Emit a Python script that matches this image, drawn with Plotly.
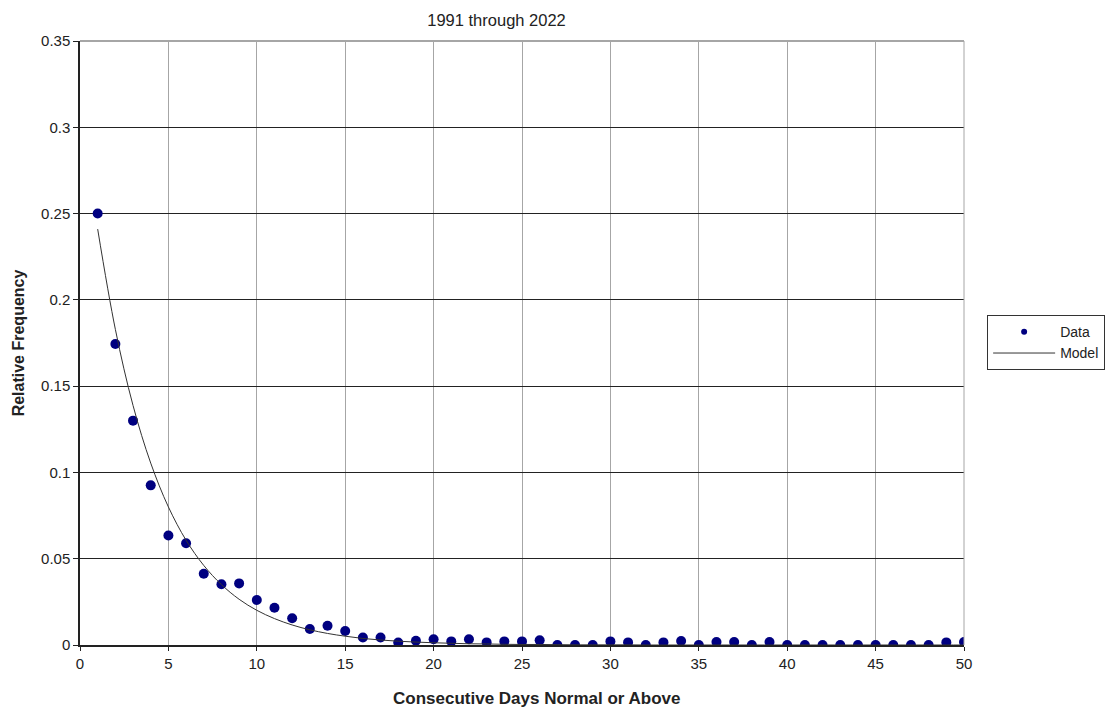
import plotly.graph_objects as go

days = list(range(1, 51))
data_freq = [0.250, 0.1744, 0.130, 0.0925, 0.0635, 0.059, 0.0413, 0.0352, 0.0357, 0.0261,
             0.0216, 0.0155, 0.0093, 0.0112, 0.0081, 0.0043, 0.0043, 0.0014, 0.0025, 0.0033,
             0.0021, 0.0033, 0.0015, 0.0021, 0.0021, 0.0027, 0.0, 0.0, 0.0, 0.0021,
             0.0015, 0.0, 0.0015, 0.0023, 0.0, 0.0017, 0.0017, 0.0, 0.0017, 0.0,
             0.0, 0.0, 0.0, 0.0, 0.0, 0.0, 0.0, 0.0, 0.0015, 0.0017]
model_freq = [0.241, 0.1829, 0.1388, 0.1054, 0.0800, 0.0607, 0.0461, 0.0350, 0.0265, 0.0201,
              0.0153, 0.0116, 0.0088, 0.0067, 0.0051, 0.0038, 0.0029, 0.0022, 0.0017, 0.0013,
              0.0010, 0.0007, 0.0006, 0.0004, 0.0003, 0.0003, 0.0002, 0.0001, 0.0001, 0.0001,
              0.0001, 0.0, 0.0, 0.0, 0.0, 0.0, 0.0, 0.0, 0.0, 0.0,
              0.0, 0.0, 0.0, 0.0, 0.0, 0.0, 0.0, 0.0, 0.0, 0.0]

x_ticks = list(range(0, 51, 5))
y_ticks = [0, 0.05, 0.1, 0.15, 0.2, 0.25, 0.3, 0.35]
y_tick_text = ["0", "0.05", "0.1", "0.15", "0.2", "0.25", "0.3", "0.35"]

font = "Liberation Sans, Arial, sans-serif"
txt = "#222222"

fig = go.Figure()
fig.add_trace(go.Scatter(x=days, y=data_freq, mode="markers", name="Data", showlegend=False,
                         marker=dict(color="#000080", size=10)))
fig.add_trace(go.Scatter(x=[None], y=[None], mode="markers", name="Data",
                         marker=dict(color="#000080", size=6)))
fig.add_trace(go.Scatter(x=days, y=model_freq, mode="lines", name="Model",
                         line=dict(color="#333333", width=1, shape="spline")))

fig.update_layout(
    width=1116, height=709,
    margin=dict(l=80, r=151, t=41, b=64),
    paper_bgcolor="white", plot_bgcolor="white",
    font=dict(family=font, size=15, color=txt),
    title=dict(text="1991 through 2022", x=0.4449, xanchor="center", y=0.972, yanchor="middle",
               font=dict(family=font, size=16.5, color=txt)),
    showlegend=True,
    legend=dict(x=1.025, y=0.546, xanchor="left", yanchor="top",
                bordercolor="#333333", borderwidth=1, bgcolor="white",
                font=dict(family=font, size=14, color=txt),
                itemwidth=62, entrywidth=117, tracegroupgap=0),
    xaxis=dict(range=[0, 50], tickvals=x_ticks, showgrid=True, gridcolor="#a6a6a6", gridwidth=1,
               zeroline=False, showline=True, linecolor="#222222", linewidth=1.5,
               ticks="outside", ticklen=4, tickcolor="#222222",
               tickfont=dict(family=font, size=15, color=txt)),
    yaxis=dict(range=[0, 0.35], tickvals=y_ticks, ticktext=y_tick_text, showgrid=True,
               gridcolor="#222222", gridwidth=1,
               zeroline=False, showline=True, linecolor="#222222", linewidth=1.5,
               ticks="outside", ticklen=5, tickcolor="#222222",
               tickfont=dict(family=font, size=15, color=txt),
               title=dict(text="<b>Relative Frequency</b>", standoff=12,
                          font=dict(family=font, size=16, color=txt))),
)
fig.add_annotation(text="<b>Consecutive Days Normal or Above</b>", xref="paper", yref="paper",
                   x=(537.5 - 80) / 885, y=-(699 - 645) / 604, xanchor="center", yanchor="middle",
                   showarrow=False, font=dict(family=font, size=17, color=txt))
fig.add_shape(type="line", xref="paper", yref="paper", x0=0, x1=1, y0=1, y1=1,
              line=dict(color="#a6a6a6", width=2))
fig.add_shape(type="line", xref="paper", yref="paper", x0=1, x1=1, y0=0, y1=1,
              line=dict(color="#a6a6a6", width=1))

fig.write_html("out.html", config={"displayModeBar": False},
               post_script="document.body.style.margin='0';document.body.style.overflow='hidden';")
